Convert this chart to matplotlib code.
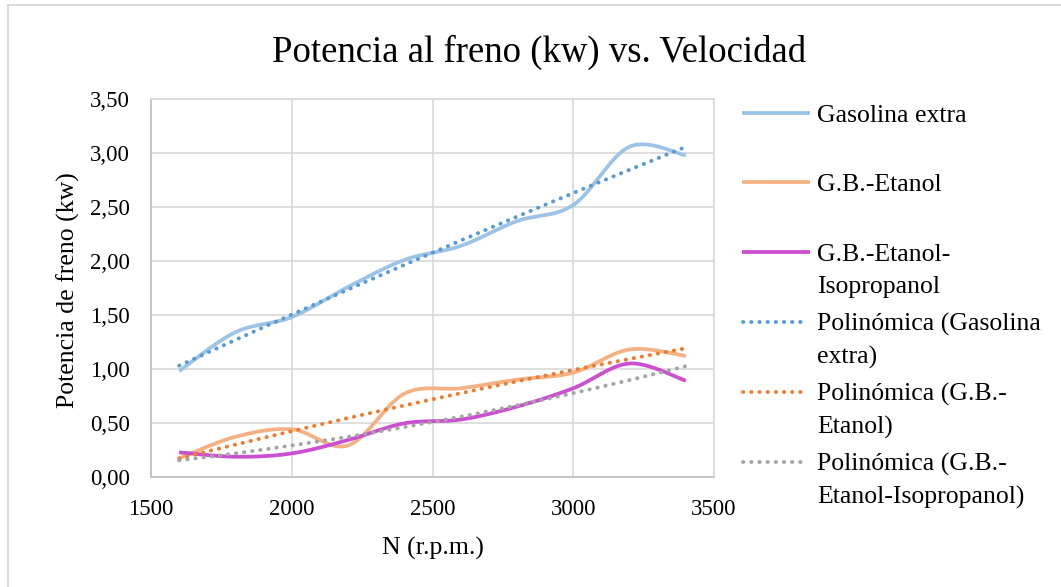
import numpy as np
import matplotlib
matplotlib.use("Agg")
import matplotlib.pyplot as plt
from matplotlib.lines import Line2D

# ---------------- data ----------------
rpm = [1600, 1800, 2000, 2200, 2400, 2600, 2800, 3000, 3200, 3400]
gasolina_extra = [0.98, 1.34, 1.48, 1.76, 2.01, 2.14, 2.37, 2.52, 3.06, 2.98]
gb_etanol = [0.17, 0.37, 0.44, 0.29, 0.77, 0.82, 0.90, 0.965, 1.18, 1.12]
gb_etanol_iso = [0.226, 0.185, 0.216, 0.34, 0.495, 0.53, 0.65, 0.82, 1.05, 0.89]

series_labels = ["Gasolina extra", "G.B.-Etanol", "G.B.-Etanol-\nIsopropanol"]
trend_labels = ["Polinómica (Gasolina\nextra)", "Polinómica (G.B.-\nEtanol)",
                "Polinómica (G.B.-\nEtanol-Isopropanol)"]
title = "Potencia al freno (kw) vs. Velocidad"
xlabel = "N (r.p.m.)"
ylabel = "Potencia de freno (kw)"
xticks = [1500, 2000, 2500, 3000, 3500]
yticks = [0, 0.5, 1.0, 1.5, 2.0, 2.5, 3.0, 3.5]

line_colors = ["#9DC3E6", "#F4B183", "#CC4FD1"]
trend_colors = ["#5B9BD5", "#ED7D31", "#A5A5A5"]

plt.rcParams['font.family'] = ['Liberation Serif', 'DejaVu Serif']

W, H = 1061, 587
fig = plt.figure(figsize=(W / 100, H / 100), dpi=100)
fig.patch.set_facecolor("white")
# outer chart border (only top and left visible in the crop)
fig.add_artist(Line2D([8 / W, 1.0], [1 - 5 / H, 1 - 5 / H], transform=fig.transFigure,
                      color="#D9D9D9", lw=1.4))
fig.add_artist(Line2D([8 / W, 8 / W], [0.0, 1 - 5 / H], transform=fig.transFigure,
                      color="#D9D9D9", lw=1.4))

ax = fig.add_axes([151 / W, 1 - 476.7 / H, (714 - 151) / W, (476.7 - 99.3) / H])


def smooth(x, y, n=30):
    x = np.asarray(x, float)
    y = np.asarray(y, float)
    P = np.column_stack([x, y])
    Pe = np.vstack([P[0], P, P[-1]])
    out = []
    t = np.linspace(0, 1, n)[:, None]
    for i in range(len(P) - 1):
        p0, p1, p2, p3 = Pe[i], Pe[i + 1], Pe[i + 2], Pe[i + 3]
        c1 = p1 + (p2 - p0) / 6
        c2 = p2 - (p3 - p1) / 6
        seg = ((1 - t) ** 3) * p1 + 3 * ((1 - t) ** 2) * t * c1 + 3 * (1 - t) * t ** 2 * c2 + t ** 3 * p2
        out.append(seg if i == 0 else seg[1:])
    out = np.vstack(out)
    return out[:, 0], out[:, 1]


all_series = [gasolina_extra, gb_etanol, gb_etanol_iso]
for ys, c in zip(all_series, line_colors):
    sx, sy = smooth(rpm, ys)
    ax.plot(sx, sy, color=c, lw=2.7, solid_capstyle="butt", zorder=3)

xx = np.linspace(rpm[0], rpm[-1], 200)
for ys, c in zip(all_series, trend_colors):
    coef = np.polyfit(rpm, ys, 2)
    ax.plot(xx, np.polyval(coef, xx), color=c, lw=2.8,
            linestyle=(0, (0.1, 2.0)), dash_capstyle="round", zorder=4)

ax.set_xlim(1500, 3500)
ax.set_ylim(0, 3.5)
ax.set_xticks(xticks)
ax.set_yticks(yticks)
ax.set_xticklabels([str(v) for v in xticks], fontsize=16.5)
ax.set_yticklabels([f"{v:.2f}".replace(".", ",") for v in yticks], fontsize=16.5)
ax.tick_params(axis="both", length=0)
ax.tick_params(axis="y", pad=15)
ax.tick_params(axis="x", pad=16)
ax.grid(True, color="#D9D9D9", lw=1.2)
ax.set_axisbelow(True)
for s in ax.spines.values():
    s.set_color("#D9D9D9")
    s.set_linewidth(1.2)
ax.spines["left"].set_color("#BFBFBF")
ax.spines["bottom"].set_color("#BFBFBF")

fig.text(539 / W, 1 - 52 / H, title, fontsize=26.5, ha="center", va="center")
fig.text(432.5 / W, 1 - 548 / H, xlabel, fontsize=18.5, ha="center", va="center")
fig.text(68 / W, 1 - 290 / H, ylabel, fontsize=18.5, ha="center", va="center",
         rotation=90)

# legend drawn manually
rows = [112.7, 181.7, 251.7, 321.7, 391.7, 461.7]
labels = series_labels + trend_labels
for i, (ry, lab) in enumerate(zip(rows, labels)):
    if i < 3:
        fig.add_artist(Line2D([742 / W, 810 / W], [1 - ry / H, 1 - ry / H],
                              transform=fig.transFigure, color=line_colors[i],
                              lw=2.7, solid_capstyle="butt"))
    else:
        fig.add_artist(Line2D([743 / W, 808 / W], [1 - ry / H, 1 - ry / H],
                              transform=fig.transFigure, color=trend_colors[i - 3],
                              lw=2.8, linestyle=(0, (0.1, 2.0)),
                              dash_capstyle="round"))
    for j, part in enumerate(lab.split("\n")):
        fig.text(817 / W, 1 - (ry + 9 + 32.5 * j) / H, part, fontsize=18.5,
                 ha="left", va="baseline")

fig.savefig("out.png", dpi=100, facecolor="white")
